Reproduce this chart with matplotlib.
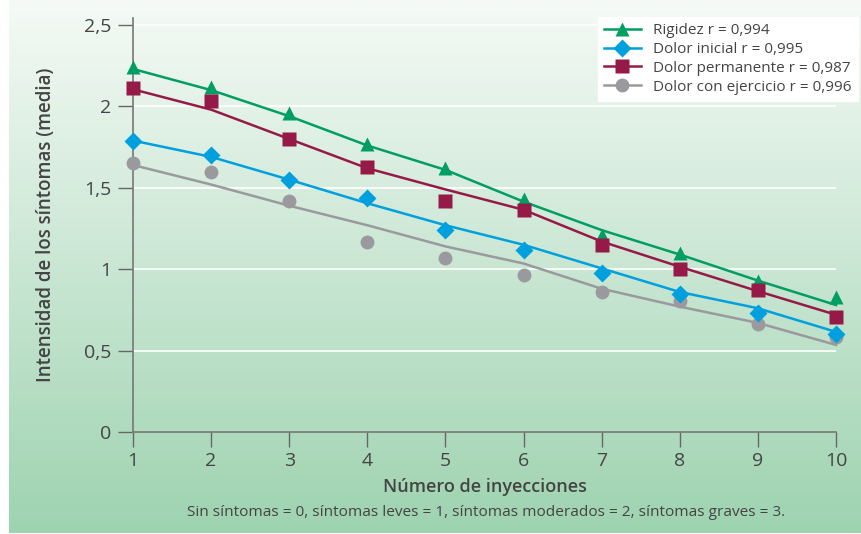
import numpy as np
import matplotlib
matplotlib.use('Agg')
import matplotlib.pyplot as plt
from matplotlib.lines import Line2D

# Intensidad media de síntomas por número de inyecciones.
inyecciones = [1, 2, 3, 4, 5, 6, 7, 8, 9, 10]

rigidez = [2.24, 2.12, 1.96, 1.77, 1.62, 1.43, 1.21, 1.10, 0.93, 0.83]
rigidez_ajuste = [2.23, 2.10, 1.94, 1.76, 1.61, 1.415, 1.24, 1.09, 0.93, 0.78]

dolor_inicial = [1.79, 1.70, 1.55, 1.435, 1.24, 1.12, 0.975, 0.85, 0.73, 0.60]
dolor_inicial_ajuste = [1.79, 1.69, 1.55, 1.405, 1.27, 1.15, 1.005, 0.86, 0.76, 0.615]

dolor_permanente = [2.11, 2.035, 1.80, 1.63, 1.42, 1.365, 1.15, 1.00, 0.87, 0.705]
dolor_permanente_ajuste = [2.105, 1.98, 1.80, 1.62, 1.49, 1.365, 1.17, 1.015, 0.865, 0.72]

dolor_ejercicio = [1.654, 1.60, 1.42, 1.17, 1.07, 0.965, 0.86, 0.805, 0.665, 0.585]
dolor_ejercicio_ajuste = [1.64, 1.52, 1.39, 1.27, 1.14, 1.035, 0.88, 0.77, 0.67, 0.535]

etiquetas = ['Rigidez r = 0,994', 'Dolor inicial r = 0,995',
             'Dolor permanente r = 0,987', 'Dolor con ejercicio r = 0,996']

y_ticks = [0, 0.5, 1, 1.5, 2, 2.5]
y_tick_labels = ['0', '0,5', '1', '1,5', '2', '2,5']

verde = '#009e62'
azul = '#00a0df'
granate = '#961a48'
gris = '#9a9a9e'
texto = '#444444'

plt.rcParams['font.family'] = ['Open Sans', 'DejaVu Sans']

W, H = 861, 534
fig = plt.figure(figsize=(W / 100, H / 100), dpi=100)
fig.patch.set_facecolor('white')

# Fondo con degradado verde.
bg = fig.add_axes([9 / W, 1 / H, 1 - 9 / W, 533 / H])
top = np.array([245, 250, 246]) / 255
bottom = np.array([158, 211, 176]) / 255
t = np.linspace(0, 1, 256)[:, None]
grad = (top[None, :] * (1 - t) + bottom[None, :] * t)[:, None, :]
bg.imshow(grad, aspect='auto', extent=[0, 1, 0, 1], interpolation='bilinear')
bg.axis('off')

ax = fig.add_axes([133 / W, (H - 432) / H, (836 - 133) / W, (432 - 18) / H])
ax.patch.set_alpha(0)
ax.set_xlim(1, 10)
ax.set_ylim(0, 2.543)

for yv in y_ticks[1:]:
    ax.axhline(yv, color='white', lw=1.2, zorder=1)

series = [
    (rigidez, rigidez_ajuste, verde, '^', 10.5, 4),
    (dolor_permanente, dolor_permanente_ajuste, granate, 's', 10, 5),
    (dolor_ejercicio, dolor_ejercicio_ajuste, gris, 'o', 10, 3),
    (dolor_inicial, dolor_inicial_ajuste, azul, 'D', 9.5, 6),
]
for valores, ajuste, color, marker, ms, z in series:
    ax.plot(inyecciones, ajuste, color=color, lw=1.8, zorder=2, clip_on=False)
    ax.plot(inyecciones, valores, ls='none', marker=marker, ms=ms, color=color,
            mec='none', zorder=z, clip_on=False)

ax.set_yticks(y_ticks)
ax.set_yticklabels(y_tick_labels)
ax.set_xticks(inyecciones)
ax.set_xticklabels([str(v) for v in inyecciones])
ax.tick_params(axis='both', direction='out', length=10.5, width=1, color='#666666',
               labelcolor=texto, labelsize=14)
ax.tick_params(axis='y', pad=5)
ax.tick_params(axis='x', pad=4)

for side in ['top', 'right']:
    ax.spines[side].set_visible(False)
for side in ['left', 'bottom']:
    ax.spines[side].set_color('#777777')
    ax.spines[side].set_linewidth(1.2)

ax.set_xlabel('Número de inyecciones', fontsize=13, fontweight='semibold', color=texto, labelpad=6)
ax.set_ylabel('Intensidad de los síntomas (media)', fontsize=13.5, fontweight='semibold', color=texto, labelpad=20)

fig.text(0.565, (H - 513) / H, 'Sin síntomas = 0, síntomas leves = 1, síntomas moderados = 2, síntomas graves = 3.',
         ha='center', va='center', fontsize=11.1, color=texto)

handles = [
    Line2D([], [], color=verde, lw=1.8, marker='^', ms=10.5, mec='none'),
    Line2D([], [], color=azul, lw=1.8, marker='D', ms=9.5, mec='none'),
    Line2D([], [], color=granate, lw=1.8, marker='s', ms=10, mec='none'),
    Line2D([], [], color=gris, lw=1.8, marker='o', ms=10, mec='none'),
]
leg = fig.legend(handles, etiquetas, loc='upper left', bbox_to_anchor=(598 / W, 1 - 17 / H),
                 frameon=True, fancybox=False, fontsize=11, labelspacing=0.25,
                 handlelength=2.4, handletextpad=0.8, borderpad=0.4, borderaxespad=0)
leg.get_frame().set_facecolor('white')
leg.get_frame().set_edgecolor('white')
leg.get_frame().set_alpha(1)
for txt in leg.get_texts():
    txt.set_color(texto)

fig.savefig('out.png', dpi=100)
